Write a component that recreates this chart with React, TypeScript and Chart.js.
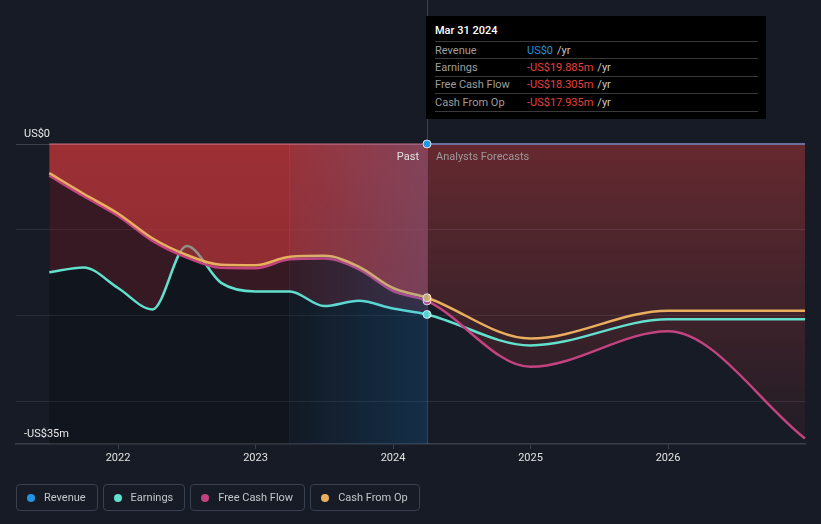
import React, { useEffect, useRef } from 'react';
import { Chart, registerables } from 'chart.js';

Chart.register(...registerables);

// ---- data (US$ millions, x = fractional year) ----
const periods = [2021.5, 2021.75, 2022.0, 2022.25, 2022.5, 2022.75, 2023.0, 2023.25, 2023.5, 2023.75, 2024.0, 2024.247, 2025.0, 2026.0, 2026.996];
const revenue = [0, 0, 0, 0, 0, 0, 0, 0, 0, 0, 0, 0, 0, 0, 0];
const earnings = [-14.97, -14.4, -16.8, -19.3, -11.9, -16.2, -17.2, -17.2, -18.9, -18.3, -19.2, -19.885, -23.5, -20.45, -20.45];
const freeCashFlow = [-3.7, -6.1, -8.4, -11.3, -13.25, -14.45, -14.5, -13.45, -13.35, -14.6, -17.15, -18.305, -26.0, -21.85, -34.35];
const cashFromOp = [-3.4, -5.8, -8.1, -11.0, -12.95, -14.1, -14.15, -13.15, -13.05, -14.3, -16.8, -17.935, -22.7, -19.45, -19.45];

const xTicks = [2022, 2023, 2024, 2025, 2026];
const yGrid = [0, -10, -20, -30];
const NOW = 2024.247;
const LTM_START = 2023.247;
const X_MIN = 2021.258;
const X_MAX = 2026.996;
const Y_MIN = -35;
const Y_MAX = 0;
const yTopLabel = 'US$0';
const yBottomLabel = '-US$35m';

const tooltipTitle = 'Mar 31 2024';
const tooltipLabels = ['Revenue', 'Earnings', 'Free Cash Flow', 'Cash From Op'];
const tooltipValues = ['US$0', '-US$19.885m', '-US$18.305m', '-US$17.935m'];
const tooltipValueColors = ['#2394df', '#e8413f', '#e8413f', '#e8413f'];

const legendLabels = ['Revenue', 'Earnings', 'Free Cash Flow', 'Cash From Op'];

// ---- styles ----
const BG = '#161b25';
const FONT = 'Roboto, "Open Sans", sans-serif';
const C_REV = '#2394df';
const C_EARN = '#63dfcd';
const C_FCF = '#c2437f';
const C_CFO = '#e9af5f';
const legendColors = [C_REV, C_EARN, C_FCF, C_CFO];
const LW = 2.5;

const toXY = (arr: number[]) => periods.map((x, i) => ({ x, y: arr[i] }));
const nowIdx = periods.indexOf(NOW);

const dot = (color: string) => ({
  pointRadius: (c: any) => (c.dataIndex === nowIdx ? 4 : 0),
  pointHoverRadius: 0,
  pointBackgroundColor: color,
  pointBorderColor: 'rgba(255,255,255,0.85)',
  pointBorderWidth: 1,
});

const hStop = (color: string) => (c: any) => {
  const chart = c.chart;
  const area = chart.chartArea;
  if (!area || !chart.scales.x) return 'rgba(0,0,0,0)';
  const g = chart.ctx.createLinearGradient(area.left, 0, area.right, 0);
  const t = Math.min(0.999, Math.max(0, (chart.scales.x.getPixelForValue(NOW) - area.left) / (area.right - area.left)));
  g.addColorStop(0, color);
  g.addColorStop(t, color);
  g.addColorStop(t + 0.0005, 'rgba(0,0,0,0)');
  g.addColorStop(1, 'rgba(0,0,0,0)');
  return g;
};

const vGrad = (c: any) => {
  const chart = c.chart;
  const area = chart.chartArea;
  if (!area) return 'rgba(0,0,0,0)';
  const g = chart.ctx.createLinearGradient(0, area.top, 0, area.bottom);
  g.addColorStop(0, 'rgba(220,64,64,0.40)');
  g.addColorStop(1, 'rgba(220,64,64,0.05)');
  return g;
};

const lineBase = {
  cubicInterpolationMode: 'monotone' as const,
  tension: 0.4,
  clip: false as const,
};

const bgPlugin = {
  id: 'bgPlugin',
  beforeDatasetsDraw(chart: any) {
    const { ctx, chartArea: a, scales } = chart;
    const x0 = scales.x.getPixelForValue(periods[0]);
    const xn = scales.x.getPixelForValue(NOW);
    ctx.save();
    ctx.fillStyle = 'rgba(0,0,0,0.19)';
    ctx.fillRect(x0, a.top, xn - x0, a.bottom - a.top);
    ctx.restore();
  },
  afterDatasetsDraw(chart: any) {
    const { ctx, chartArea: a, scales } = chart;
    const xl = scales.x.getPixelForValue(LTM_START);
    const xn = scales.x.getPixelForValue(NOW);
    const y0 = scales.y.getPixelForValue(Y_MAX);
    const yMin = scales.y.getPixelForValue(Y_MIN);
    ctx.save();
    const g = ctx.createLinearGradient(xl, 0, xn, 0);
    g.addColorStop(0, 'rgba(33,150,243,0.03)');
    g.addColorStop(1, 'rgba(33,150,243,0.20)');
    ctx.fillStyle = g;
    ctx.fillRect(xl, a.top, xn - xl - 3, a.bottom - a.top);
    ctx.fillStyle = 'rgba(33,150,243,0.20)';
    ctx.fillRect(xn - 3, a.top + 6, 3, a.bottom - a.top - 6);
    // ltm boundary
    ctx.strokeStyle = 'rgba(255,255,255,0.04)';
    ctx.lineWidth = 1;
    ctx.beginPath();
    ctx.moveTo(Math.round(xl) + 0.5, a.top);
    ctx.lineTo(Math.round(xl) + 0.5, a.bottom);
    ctx.stroke();
    // now line
    ctx.strokeStyle = 'rgba(120,150,190,0.32)';
    ctx.beginPath();
    ctx.moveTo(Math.round(xn) + 0.5, 0);
    ctx.lineTo(Math.round(xn) + 0.5, a.bottom);
    ctx.stroke();
    // texts
    ctx.font = `11px ${FONT}`;
    ctx.textBaseline = 'alphabetic';
    ctx.textAlign = 'left';
    ctx.fillStyle = '#e8e8e8';
    ctx.fillText(yTopLabel, 24, y0 - 7.5);
    ctx.fillText(yBottomLabel, 24, yMin - 7.5);
    ctx.textAlign = 'right';
    ctx.fillStyle = '#e2e2e2';
    ctx.fillText('Past', xn - 8, y0 + 16);
    ctx.textAlign = 'left';
    ctx.fillStyle = '#9f989e';
    ctx.fillText('Analysts Forecasts', xn + 9, y0 + 16);
    ctx.restore();
  },
};

export default function App() {
  const ref = useRef<HTMLCanvasElement>(null);

  useEffect(() => {
    if (!ref.current) return;
    Chart.defaults.font.family = FONT;
    const chart = new Chart(ref.current, {
      type: 'line',
      data: {
        datasets: [
          {
            label: 'fcfFill', data: toXY(freeCashFlow), borderWidth: 0, borderColor: 'rgba(0,0,0,0)',
            pointRadius: 0, fill: 'origin', backgroundColor: vGrad, order: 10, ...lineBase,
          },
          {
            label: 'earnFill', data: toXY(earnings), borderWidth: 0, borderColor: 'rgba(0,0,0,0)',
            pointRadius: 0, fill: 'origin', backgroundColor: hStop('rgba(200,40,50,0.2)'), order: 9, ...lineBase,
          },
          {
            label: 'Earnings', data: toXY(earnings), borderColor: C_EARN, borderWidth: LW, fill: false,
            order: 8, ...lineBase, ...dot(C_EARN),
          },
          {
            label: 'cfoFill', data: toXY(cashFromOp), borderWidth: 0, borderColor: 'rgba(0,0,0,0)',
            pointRadius: 0, fill: 'origin', backgroundColor: hStop('rgba(200,58,62,0.47)'), order: 7, ...lineBase,
          },
          {
            label: 'Free Cash Flow', data: toXY(freeCashFlow), borderColor: C_FCF, borderWidth: LW, fill: false,
            order: 6, ...lineBase, ...dot(C_FCF),
          },
          {
            label: 'Cash From Op', data: toXY(cashFromOp), borderColor: C_CFO, borderWidth: LW, fill: false,
            order: 5, ...lineBase, ...dot(C_CFO),
          },
          {
            label: 'Revenue', data: toXY(revenue), borderColor: '#6b6f9e', borderWidth: 2, fill: false,
            segment: {
              borderColor: (c: any) => (c.p0.parsed.x < NOW ? 'rgba(215,120,140,0.45)' : '#6b6f9e'),
            },
            order: 4, ...lineBase, ...dot(C_REV),
          },
        ],
      },
      options: {
        responsive: false,
        animation: false,
        events: [],
        layout: { padding: { left: 16, right: 16, top: 144, bottom: 0 } },
        plugins: { legend: { display: false }, tooltip: { enabled: false } },
        scales: {
          x: {
            type: 'linear',
            min: X_MIN,
            max: X_MAX,
            afterBuildTicks: (s: any) => { s.ticks = xTicks.map((v) => ({ value: v })); },
            afterFit: (s: any) => { s.height = 80; },
            ticks: {
              color: '#e2e2e2', font: { size: 11, family: FONT }, padding: 3,
              maxRotation: 0, autoSkip: false, callback: (v: any) => String(v),
            },
            grid: { drawOnChartArea: false, drawTicks: true, tickLength: 5, color: '#3b404b', lineWidth: 1 },
            border: { display: true, color: '#3b404b', width: 1.5 },
          },
          y: {
            type: 'linear',
            min: Y_MIN,
            max: Y_MAX,
            afterBuildTicks: (s: any) => { s.ticks = yGrid.map((v) => ({ value: v })); },
            afterFit: (s: any) => { s.width = 0; },
            ticks: { display: false },
            grid: {
              drawTicks: false,
              color: (c: any) => (c.tick && c.tick.value === 0 ? '#3d4350' : '#2a2f3a'),
              lineWidth: 1,
            },
            border: { display: false },
          },
        },
      },
      plugins: [bgPlugin],
    } as any);
    return () => chart.destroy();
  }, []);

  const rowH = 17.4;

  return (
    <div style={{ position: 'absolute', left: 0, top: 0, width: 821, height: 524, background: BG, overflow: 'hidden', fontFamily: FONT }}>
      <canvas ref={ref} width={821} height={524} style={{ position: 'absolute', left: 0, top: 0, width: 821, height: 524 }} />
      <div style={{ position: 'absolute', left: 426, top: 16, width: 340, height: 103, background: '#000' }}>
        <div style={{ position: 'absolute', left: 9, top: 8, fontSize: 11, lineHeight: '14px', color: '#fff', fontWeight: 500 }}>{tooltipTitle}</div>
        {tooltipLabels.map((lab, i) => (
          <div key={lab} style={{
            position: 'absolute', left: 9, top: 25 + i * rowH, width: 323, height: rowH,
            borderTop: '1px solid #3a3a3a', boxSizing: 'border-box', display: 'flex', alignItems: 'center', fontSize: 11,
          }}>
            <span style={{ width: 92, color: '#9e9e9e' }}>{lab}</span>
            <span style={{ color: tooltipValueColors[i] }}>{tooltipValues[i]}</span>
            <span style={{ color: '#c8c8c8', marginLeft: 4 }}>/yr</span>
          </div>
        ))}
        <div style={{ position: 'absolute', left: 9, top: 25 + 4 * rowH, width: 323, height: 0, borderTop: '1px solid #3a3a3a' }} />
      </div>
      <div style={{ position: 'absolute', left: 16, top: 484, display: 'flex', gap: 5 }}>
        {legendLabels.map((lab, i) => (
          <div key={lab} style={{
            height: 27, boxSizing: 'border-box', border: '1px solid #394050', borderRadius: 4,
            padding: '0 11px 0 10px', display: 'flex', alignItems: 'center', fontSize: 11, color: '#c3c7cc',
          }}>
            <span style={{ width: 8, height: 8, borderRadius: 4, background: legendColors[i], marginRight: 9, display: 'inline-block' }} />
            {lab}
          </div>
        ))}
      </div>
    </div>
  );
}
